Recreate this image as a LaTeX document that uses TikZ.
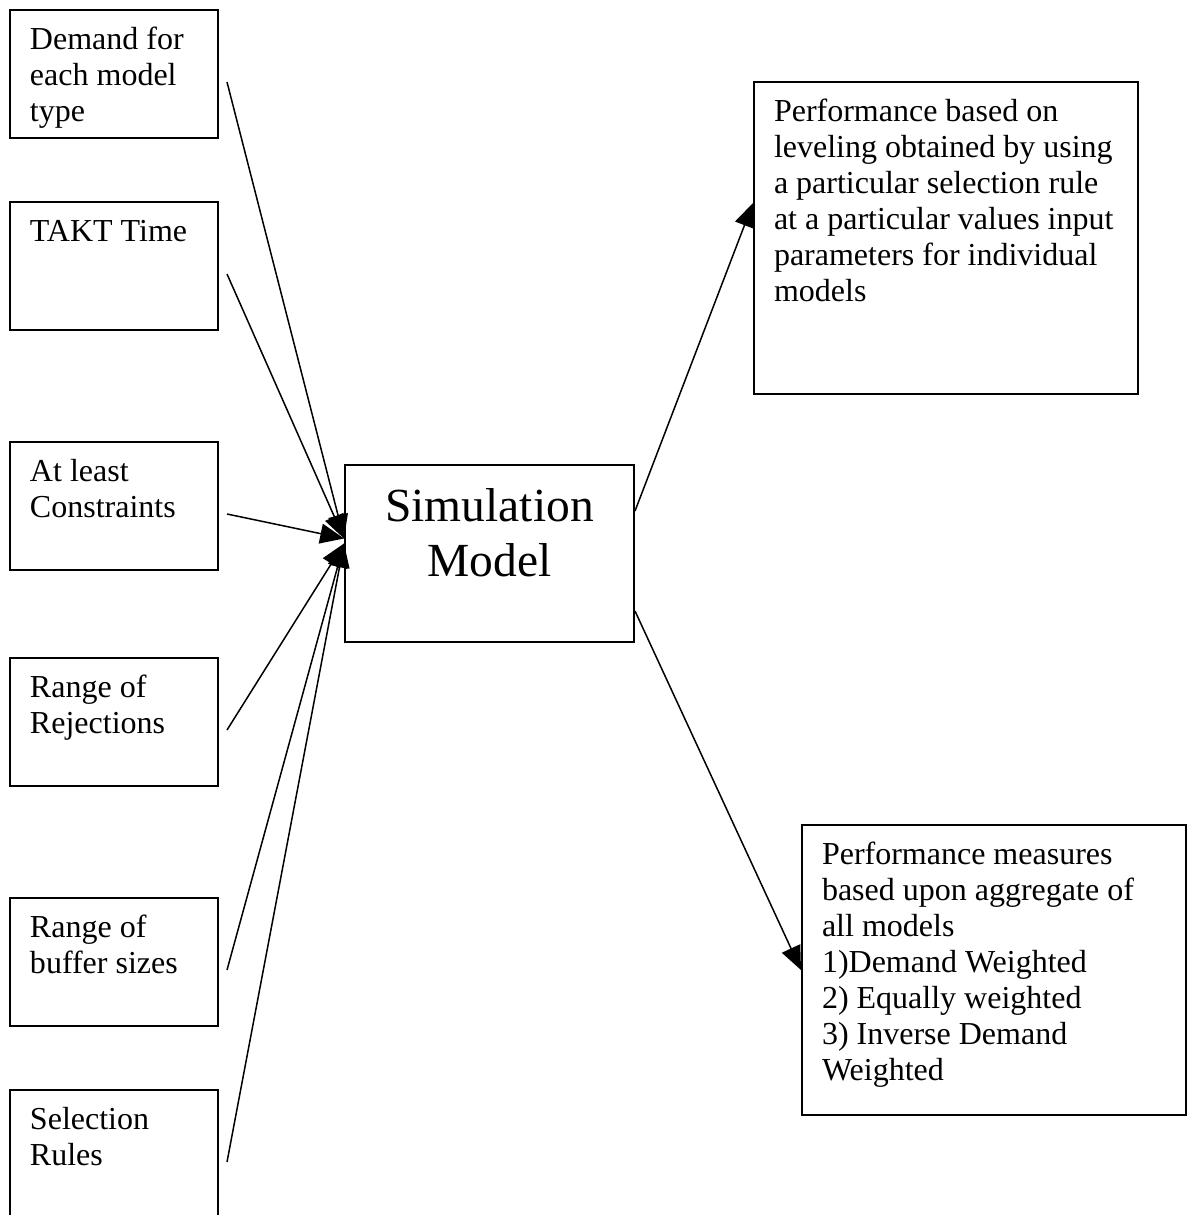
\documentclass[tikz,border=0pt]{standalone}
\usepackage{fontspec}
\setmainfont{Liberation Serif}
\usetikzlibrary{arrows.meta}

\newcommand{\boxtext}[3]{\parbox[c][#2][t]{#1}{\raggedright\rule{0pt}{15.6pt}#3}}

\begin{document}
\begin{tikzpicture}[x=0.4pt,y=-0.4pt]

    \tikzset{
      inbox/.style={
        draw,
        line width=0.8pt,
        anchor=north west,
        inner xsep=8pt,
        inner ysep=0pt,
        font=\fontsize{12.8pt}{14.4pt}\selectfont,
      },
      feed/.style={
        line width=0.6pt,
        -{Triangle[length=9.5pt,width=8pt]},
      },
    }
    \clip (0,0) rectangle (1187,1215);
	% inputs
	\node[inbox] (demand) at (9,9) {\boxtext{67.2pt}{51.2pt}{Demand for\\each model\\type}};
	\node[inbox] (takt) at (9,201) {\boxtext{67.2pt}{51.2pt}{TAKT Time}};
	\node[inbox] (atleast) at (9,441) {\boxtext{67.2pt}{51.2pt}{At least\\Constraints}};
	\node[inbox] (reject) at (9,657) {\boxtext{67.2pt}{51.2pt}{Range of\\Rejections}};
	\node[inbox] (buffer) at (9,897) {\boxtext{67.2pt}{51.2pt}{Range of\\buffer sizes}};
	\node[inbox] (rules) at (9,1089) {\boxtext{67.2pt}{51.2pt}{Selection\\Rules}};
	% model
	\node[inbox,inner xsep=0pt,font=\fontsize{19pt}{22pt}\selectfont] (sim) at (344,464)
		{\parbox[c][70.8pt][t]{115.6pt}{\centering\rule{0pt}{22.4pt}Simulation\\Model}};
	% outputs
	\node[inbox] (perf) at (753,81) {\boxtext{137.6pt}{124.8pt}{Performance based on\\leveling obtained by using\\a particular selection rule\\at a particular values input\\parameters for individual\\models}};
	\node[inbox] (agg) at (801,824) {\boxtext{137.6pt}{116pt}{Performance measures\\based upon aggregate of\\all models\\1)Demand Weighted\\2) Equally weighted\\3) Inverse Demand\\Weighted}};

	\coordinate (inA) at ([yshift=6pt]sim.west);
	\coordinate (inB) at ([yshift=4pt]sim.west);
	\draw[feed] ([shift={(8,8)}]demand.east) -- (inA);
	\draw[feed] ([shift={(8,8)}]takt.east) -- (inA);
	\draw[feed] ([shift={(8,8)}]atleast.east) -- (inA);
	\draw[feed] ([shift={(8,8)}]reject.east) -- (inB);
	\draw[feed] ([shift={(8,8)}]buffer.east) -- (inB);
	\draw[feed] ([shift={(8,8)}]rules.east) -- (inB);
	\draw[feed] ([yshift=17pt]sim.east) -- ([yshift=14pt]perf.west);
	\draw[feed] ([yshift=-23pt]sim.east) -- (agg.west);

\end{tikzpicture}
\end{document}
